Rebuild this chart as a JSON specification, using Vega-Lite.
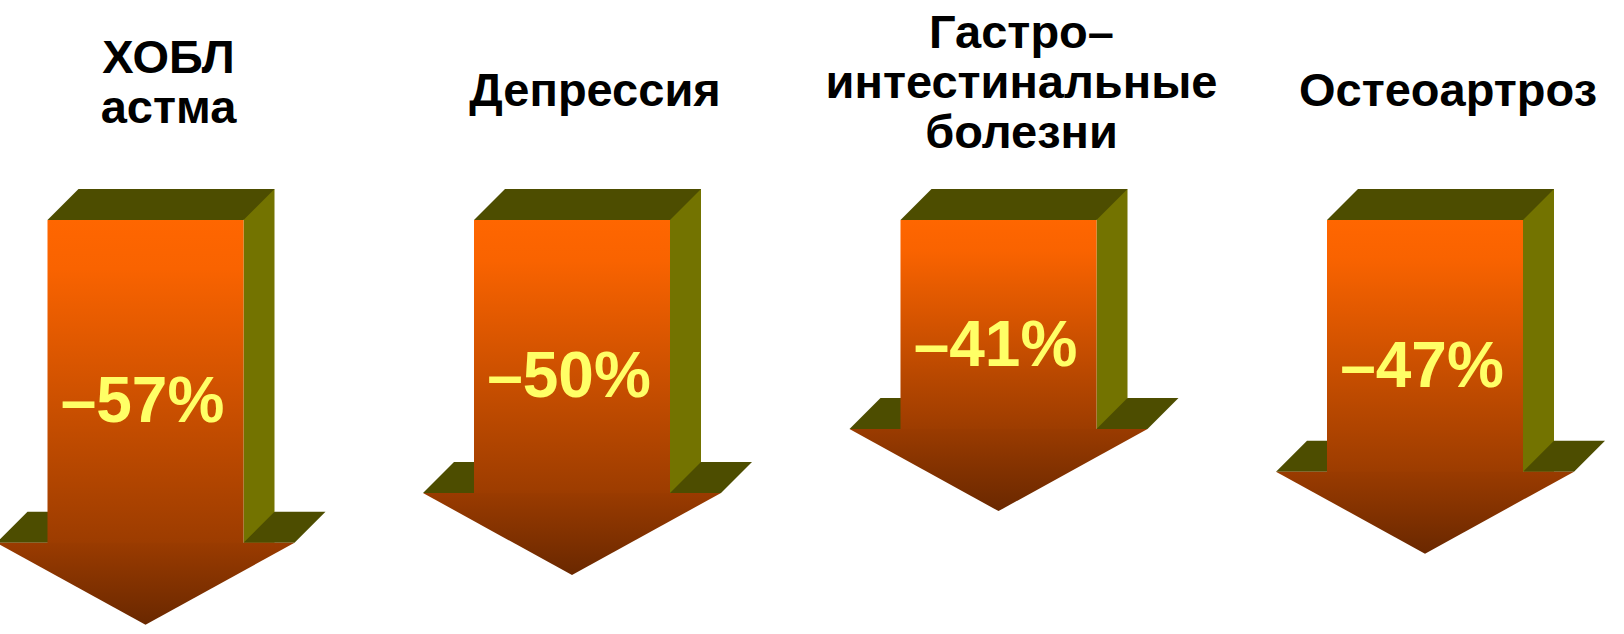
{
  "$schema": "https://vega.github.io/schema/vega-lite/v6.json",
  "width": 1624,
  "height": 534,
  "autosize": {"type": "none"},
  "padding": {"left": 0, "right": 0, "top": 100, "bottom": 0},
  "background": "white",
  "config": {"view": {"stroke": null}},
  "data": {
    "values": [
      {"cat": "ХОБЛ|астма", "value": -57, "label": "–57%"},
      {"cat": "Депрессия", "value": -50, "label": "–50%"},
      {"cat": "Гастро–|интестинальные|болезни", "value": -41, "label": "–41%"},
      {"cat": "Остеоартроз", "value": -47, "label": "–47%"}
    ]
  },
  "encoding": {
    "x": {
      "field": "cat",
      "type": "nominal",
      "sort": null,
      "scale": {"type": "band", "range": [-67.75, 1638.25], "paddingInner": 0, "paddingOuter": 0},
      "axis": {
        "orient": "top",
        "title": null,
        "domain": false,
        "ticks": false,
        "tickSize": 0,
        "grid": false,
        "zindex": 1,
        "labelAngle": 0,
        "labelPadding": {
          "condition": [
            {"test": "datum.value == 'ХОБЛ|астма'", "value": 28},
            {"test": "datum.value == 'Гастро–|интестинальные|болезни'", "value": 53}
          ],
          "value": -5
        },
        "labelOffset": 23,
        "labelFont": "Liberation Sans",
        "labelFontSize": 47,
        "labelFontWeight": "bold",
        "labelColor": "#000000",
        "labelLineHeight": 50,
        "labelBaseline": "alphabetic",
        "labelLimit": 1000,
        "labelOverlap": false,
        "labelBound": false,
        "labelExpr": "split(datum.label, '|')"
      }
    }
  },
  "layer": [
    {
      "mark": {"type": "bar", "width": 31, "xOffset": 113.5, "yOffset": -82, "y2Offset": -31, "color": "#737300"},
      "encoding": {
        "y": {"field": "value", "type": "quantitative", "scale": {"domain": [-58.31, 16.9], "nice": false, "zero": false}, "axis": null},
        "y2": {"datum": 0}
      }
    },
    {
      "mark": {"type": "point", "shape": "M -149 -82 L -118 -113 L -92 -113 L -92 -82 Z M 98 -82 L 149 -82 L 180 -113 L 129 -113 Z", "size": 4, "filled": true, "fill": "#4D4D00", "opacity": 1, "strokeWidth": 0},
      "encoding": {
        "y": {"field": "value", "type": "quantitative", "scale": {"domain": [-58.31, 16.9], "nice": false, "zero": false}, "axis": null}
      }
    },
    {
      "mark": {"type": "point", "shape": "M -98 0 L -67 -31 L 129 -31 L 98 0 Z", "size": 4, "filled": true, "fill": "#4D4D00", "opacity": 1, "strokeWidth": 0},
      "encoding": {
        "y": {"datum": 0, "type": "quantitative", "scale": {"domain": [-58.31, 16.9], "nice": false, "zero": false}, "axis": null}
      }
    },
    {
      "mark": {
        "type": "bar",
        "width": 196,
        "yOffset": -81,
        "fill": {
          "gradient": "linear", "x1": 0, "y1": 0, "x2": 0, "y2": 1,
          "stops": [
            {"offset": 0, "color": "#FF6600"},
            {"offset": 0.15, "color": "#F96300"},
            {"offset": 1, "color": "#9C3C00"}
          ]
        }
      },
      "encoding": {
        "y": {"field": "value", "type": "quantitative", "scale": {"domain": [-58.31, 16.9], "nice": false, "zero": false}, "axis": null},
        "y2": {"datum": 0}
      }
    },
    {
      "mark": {
        "type": "point",
        "shape": "M -149 -82 L 149 -82 L 0 0 Z",
        "size": 4,
        "filled": true,
        "opacity": 1,
        "strokeWidth": 0,
        "fill": {
          "gradient": "linear", "x1": 0, "y1": 0, "x2": 0, "y2": 1,
          "stops": [
            {"offset": 0, "color": "#9A3B00"},
            {"offset": 1, "color": "#6A2800"}
          ]
        }
      },
      "encoding": {
        "y": {"field": "value", "type": "quantitative", "scale": {"domain": [-58.31, 16.9], "nice": false, "zero": false}, "axis": null}
      }
    },
    {
      "mark": {"type": "text", "font": "Liberation Sans", "fontSize": 64, "fontWeight": "bold", "fill": "#FFFF66", "baseline": "alphabetic", "align": "center", "dx": -3},
      "encoding": {
        "y": {"field": "value", "type": "quantitative", "scale": {"domain": [-116.62, 33.8], "nice": false, "zero": false}, "axis": null},
        "text": {"field": "label", "type": "nominal"}
      }
    }
  ],
  "resolve": {"scale": {"y": "independent"}}
}
